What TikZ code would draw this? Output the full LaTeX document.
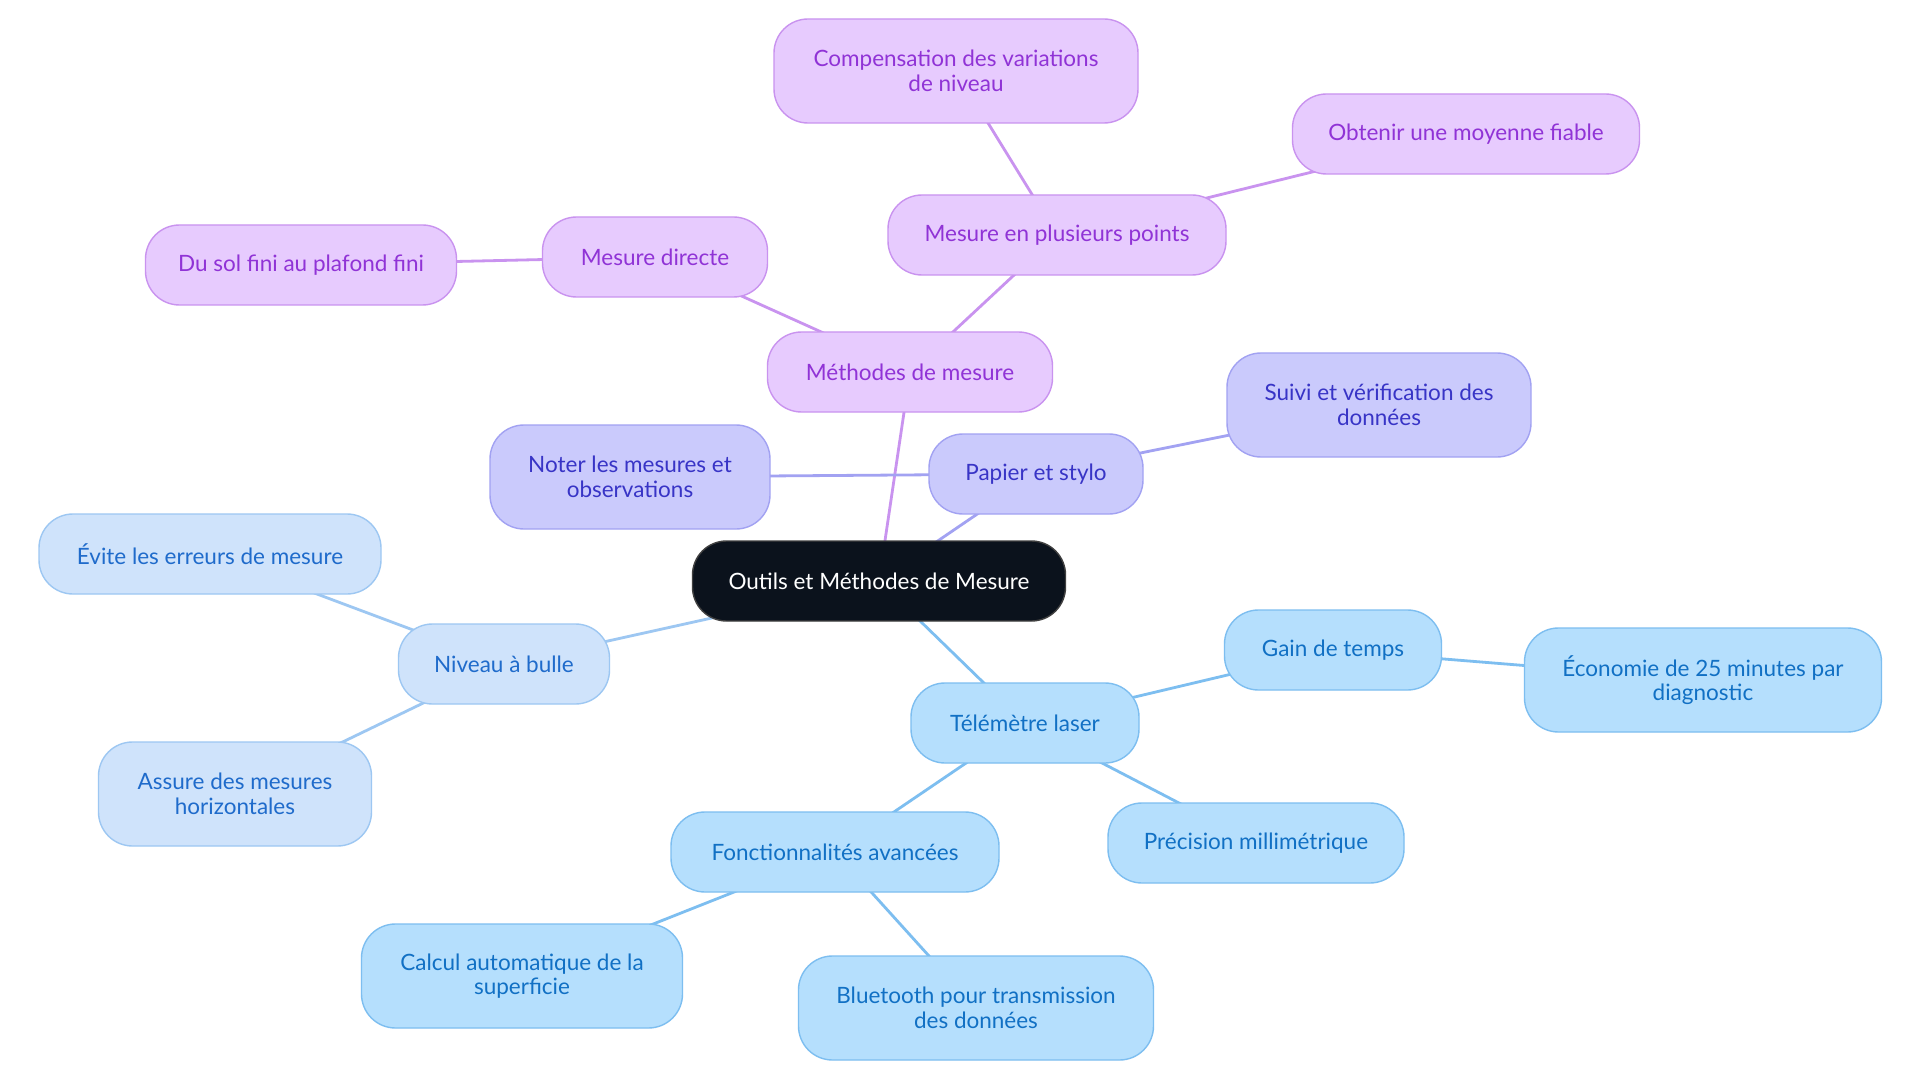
\documentclass[tikz,border=0pt]{standalone}
\usepackage{fontspec}
\setmainfont{Lato}
\usetikzlibrary{backgrounds}
\definecolor{pfill}{HTML}{E7CBFE}
\definecolor{pdraw}{HTML}{C993EF}
\definecolor{ptext}{HTML}{9033D6}
\definecolor{ifill}{HTML}{CACAFC}
\definecolor{idraw}{HTML}{A2A2F2}
\definecolor{itext}{HTML}{3834C6}
\definecolor{lfill}{HTML}{CFE3FB}
\definecolor{ldraw}{HTML}{9DC7F2}
\definecolor{ltext}{HTML}{1F6BCB}
\definecolor{bfill}{HTML}{B5DFFD}
\definecolor{bdraw}{HTML}{7DBEF0}
\definecolor{btext}{HTML}{1170C4}
\definecolor{cfill}{HTML}{0B121C}
\tikzset{
  box/.style={rectangle, rounded corners=34pt, minimum height=80pt, line width=1.4pt,
    align=center, inner sep=0pt, font=\fontsize{22.5}{24.5}\selectfont},
  tall/.style={minimum height=104pt},
  pbox/.style={box, fill=pfill, draw=pdraw, text=ptext},
  ibox/.style={box, fill=ifill, draw=idraw, text=itext},
  lbox/.style={box, fill=lfill, draw=ldraw, text=ltext},
  bbox/.style={box, fill=bfill, draw=bdraw, text=btext},
  cbox/.style={box, fill=cfill, draw=black!75, text=white},
  pline/.style={draw=pdraw, line width=2.8pt},
  iline/.style={draw=idraw, line width=2.8pt},
  lline/.style={draw=ldraw, line width=2.8pt},
  bline/.style={draw=bdraw, line width=2.8pt},
}
\begin{document}
\begin{tikzpicture}[x=1pt, y=-1pt]
\useasboundingbox (0,0) rectangle (1920,1083);
% nodes
\node[cbox, minimum width=373pt] (central) at (879,581) {Outils et Méthodes de Mesure};
\node[pbox, minimum width=285pt] (meth) at (910,372) {Méthodes de mesure};
\node[pbox, minimum width=225pt] (mdir) at (655,257) {Mesure directe};
\node[pbox, minimum width=311pt] (dusol) at (301,265) {Du sol fini au plafond fini};
\node[pbox, minimum width=338pt] (mplus) at (1057,235) {Mesure en plusieurs points};
\node[pbox, tall, minimum width=364pt] (comp) at (956,71) {Compensation des variations\\de niveau};
\node[pbox, minimum width=347pt] (obt) at (1466,134) {Obtenir une moyenne fiable};
\node[ibox, minimum width=214pt] (pap) at (1036,474) {Papier et stylo};
\node[ibox, tall, minimum width=280pt] (noter) at (630,477) {Noter les mesures et\\observations};
\node[ibox, tall, minimum width=304pt] (suivi) at (1379,405) {Suivi et vérification des\\données};
\node[lbox, minimum width=211pt] (niv) at (504,664) {Niveau à bulle};
\node[lbox, minimum width=342pt] (evite) at (210,554) {Évite les erreurs de mesure};
\node[lbox, tall, minimum width=273pt] (assure) at (235,794) {Assure des mesures\\horizontales};
\node[bbox, minimum width=228pt] (tele) at (1025,723) {Télémètre laser};
\node[bbox, minimum width=217pt] (gain) at (1333,650) {Gain de temps};
\node[bbox, tall, minimum width=357pt] (eco) at (1703,680) {Économie de 25 minutes par\\diagnostic};
\node[bbox, minimum width=296pt] (prec) at (1256,843) {Précision millimétrique};
\node[bbox, minimum width=328pt] (fonc) at (835,852) {Fonctionnalités avancées};
\node[bbox, tall, minimum width=321pt] (calc) at (522,976) {Calcul automatique de la\\superficie};
\node[bbox, tall, minimum width=355pt] (blue) at (976,1008) {Bluetooth pour transmission\\des données};
% edges
\begin{pgfonlayer}{background}
\fill[white] (0,0) rectangle (1920,1083);
\draw[pline] (central.center) -- (meth.center);
\draw[pline] (meth.center) -- (mdir.center);
\draw[pline] (mdir.center) -- (dusol.center);
\draw[pline] (meth.center) -- (mplus.center);
\draw[pline] (mplus.center) -- (comp.center);
\draw[pline] (mplus.center) -- (obt.center);
\draw[iline] (central.center) -- (pap.center);
\draw[iline] (pap.center) -- (noter.center);
\draw[iline] (pap.center) -- (suivi.center);
\draw[lline] (central.center) -- (niv.center);
\draw[lline] (niv.center) -- (evite.center);
\draw[lline] (niv.center) -- (assure.center);
\draw[bline] (central.center) -- (tele.center);
\draw[bline] (tele.center) -- (gain.center);
\draw[bline] (gain.center) -- (eco.center);
\draw[bline] (tele.center) -- (prec.center);
\draw[bline] (tele.center) -- (fonc.center);
\draw[bline] (fonc.center) -- (calc.center);
\draw[bline] (fonc.center) -- (blue.center);
\end{pgfonlayer}
\end{tikzpicture}
\end{document}
